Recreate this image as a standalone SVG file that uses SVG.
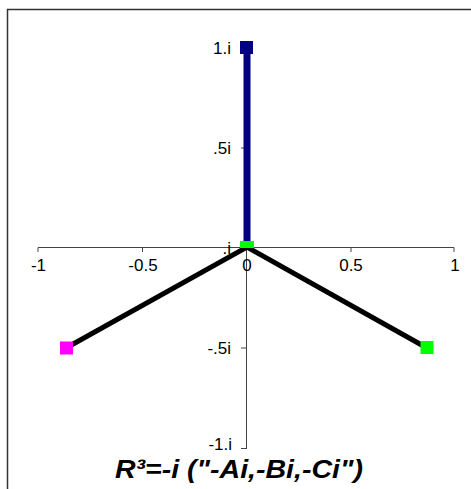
<svg xmlns="http://www.w3.org/2000/svg" width="471" height="489" viewBox="0 0 471 489">
<style>
.lbl{font-family:"Liberation Sans",Arial,sans-serif;font-size:17px;fill:#000}
.ax{stroke:#444;stroke-width:1;fill:none}
.ser{stroke:#000;stroke-width:5;stroke-linecap:round;fill:none}
.title{font-family:"Liberation Sans",Arial,sans-serif;font-size:26px;font-weight:bold;font-style:italic;fill:#000}
</style>
<rect x="0" y="0" width="471" height="489" fill="#fff"/>
<rect id="frame" x="7.5" y="9.5" width="500" height="500" fill="none" stroke="#333" stroke-width="1.5"/>
<g id="axes">
<line class="ax" x1="38" y1="247.5" x2="454" y2="247.5"/>
<line class="ax" x1="38" y1="247.5" x2="38" y2="252"/>
<line class="ax" x1="142.5" y1="247.5" x2="142.5" y2="252"/>
<line class="ax" x1="351" y1="247.5" x2="351" y2="252"/>
<line class="ax" x1="454" y1="247.5" x2="454" y2="252"/>
<line class="ax" x1="246.5" y1="47" x2="246.5" y2="449"/>
<line class="ax" x1="241" y1="47.5" x2="246.5" y2="47.5"/>
<line class="ax" x1="241" y1="148" x2="246.5" y2="148"/>
<line class="ax" x1="241" y1="348" x2="246.5" y2="348"/>
<line class="ax" x1="241" y1="448.5" x2="246.5" y2="448.5"/>
<text class="lbl" x="38.5" y="271" text-anchor="middle">-1</text>
<text class="lbl" x="143" y="271" text-anchor="middle">-0.5</text>
<text class="lbl" x="247" y="271" text-anchor="middle">0</text>
<text class="lbl" x="351" y="271" text-anchor="middle">0.5</text>
<text class="lbl" x="455" y="271" text-anchor="middle">1</text>
<text class="lbl" x="231" y="53.5" text-anchor="end">1.i</text>
<text class="lbl" x="231" y="154" text-anchor="end">.5i</text>
<text class="lbl" x="231" y="253.5" text-anchor="end">.i</text>
<text class="lbl" x="231" y="354" text-anchor="end">-.5i</text>
<text class="lbl" x="232" y="450" text-anchor="end">-1.i</text>
</g>
<g id="connectors">
<line x1="247" y1="47" x2="247" y2="247" stroke="#000080" stroke-width="7"/>
<polyline class="ser" points="66,348 247,247 427,348"/>
</g>
<g id="node-top"><rect x="240" y="41" width="13" height="13" fill="#000080"/></g>
<g id="node-origin"><rect x="240" y="241" width="14" height="7" fill="#00ff00"/></g>
<g id="node-left"><rect x="60" y="341.5" width="13" height="13" fill="#ff00ff"/></g>
<g id="node-right"><rect x="420.5" y="341" width="13" height="13" fill="#00ff00"/></g>
<text class="title" x="115" y="478" textLength="248" lengthAdjust="spacingAndGlyphs">R³=-i ("-Ai,-Bi,-Ci")</text>
</svg>
